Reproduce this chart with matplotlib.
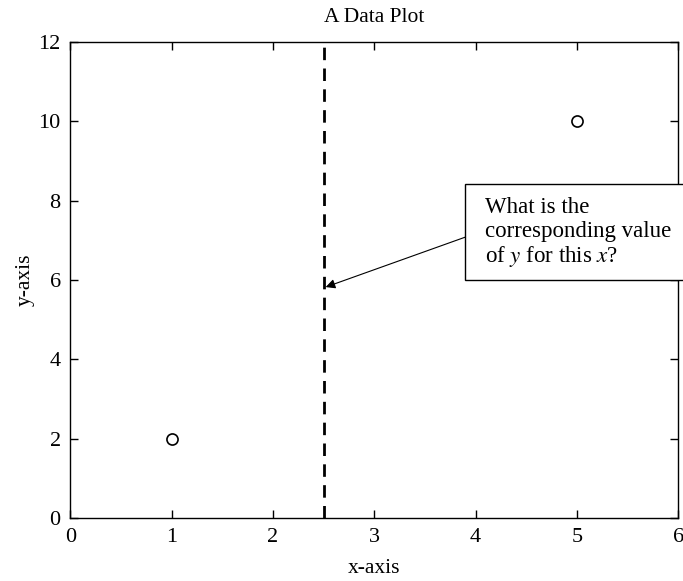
import matplotlib.pyplot as plt
from matplotlib.patches import Rectangle

# data points
x_pts = [1, 5]
y_pts = [2, 10]
x_query = 2.5
arrow_tip = (2.52, 5.82)

plt.rcParams['font.family'] = 'Liberation Serif'
plt.rcParams['mathtext.fontset'] = 'stix'

fig = plt.figure(figsize=(6.83, 5.81), dpi=100)
ax = fig.add_axes([0.103, 0.1084, 0.890, 0.8196])

ax.plot(x_pts, y_pts, 'o', mfc='white', mec='black', ms=8, mew=1.2)
ax.plot([x_query, x_query], [0, 12], '--', color='black', lw=2, dashes=(4.5, 3))

ax.set_xlim(0, 6)
ax.set_ylim(0, 12)
ax.set_xticks(range(0, 7))
ax.set_yticks(range(0, 13, 2))
ax.tick_params(direction='in', top=True, right=True, length=6, width=1, labelsize=16, pad=7)
for s in ax.spines.values():
    s.set_linewidth(1)

ax.set_title('A Data Plot', fontsize=15.5, pad=14)
ax.set_xlabel('x-axis', fontsize=15.5, labelpad=9)
ax.set_ylabel('y-axis', fontsize=15.5, labelpad=3)

# callout box
box = Rectangle((3.9, 6.0), 2.3, 2.42, facecolor='white', edgecolor='black',
                lw=1, clip_on=False, zorder=5)
ax.add_patch(box)
ax.text(4.09, 8.08, 'What is the\ncorresponding value\nof $y$ for this $x$?',
        ha='left', va='top', fontsize=16.5, linespacing=1.15, zorder=6)

ax.annotate('', xy=arrow_tip, xytext=(3.9, 7.08),
            arrowprops=dict(arrowstyle='-|>', color='black', lw=0.8,
                            mutation_scale=14, shrinkA=0, shrinkB=0),
            zorder=6)

fig.savefig('out.png', dpi=100)
